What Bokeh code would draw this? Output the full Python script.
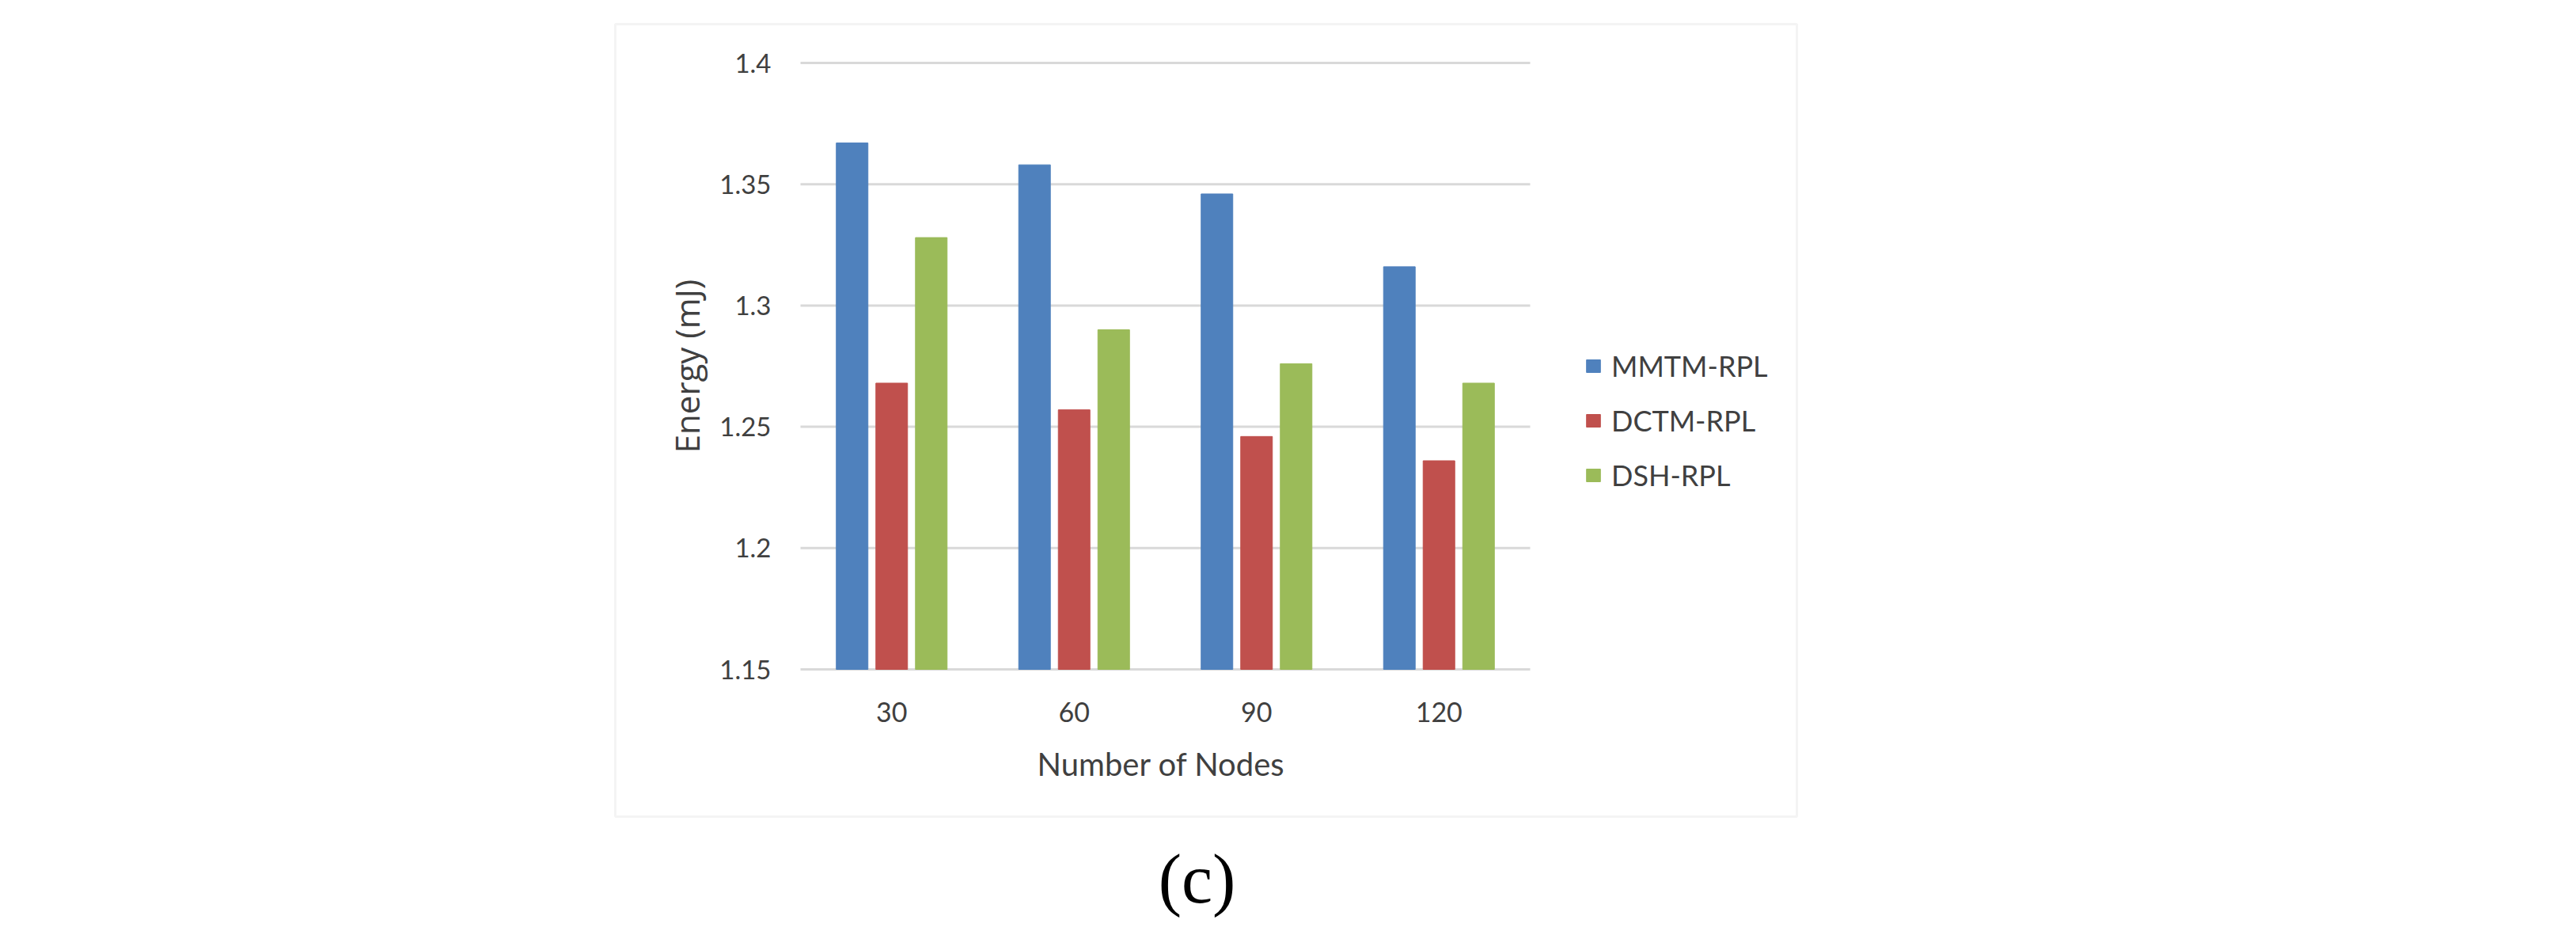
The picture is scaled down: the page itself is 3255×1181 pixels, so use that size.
from bokeh.plotting import figure
from bokeh.models import (Range1d, FixedTicker, Legend, LegendItem,
                          BoxAnnotation, Label, ColumnDataSource)
from bokeh.embed import file_html
from bokeh.resources import INLINE

# ---- data ----
categories = ["30", "60", "90", "120"]
mmtm = [1.367, 1.358, 1.346, 1.316]
dctm = [1.268, 1.257, 1.246, 1.236]
dsh = [1.328, 1.290, 1.276, 1.268]
series_names = ["MMTM-RPL", "DCTM-RPL", "DSH-RPL"]
y_ticks = [1.15, 1.2, 1.25, 1.3, 1.35, 1.4]
y_tick_labels = ["1.15", "1.2", "1.25", "1.3", "1.35", "1.4"]
x_label = "Number  of Nodes"
y_label = "Energy (mJ)"
caption = "(c)"

# ---- style / layout ----
colors = ["#4F81BD", "#C0504D", "#9BBB59"]
text_color = "#404040"
grid_color = "#D9D9D9"
FONT = "Lato"

W, H = 3239, 1165
# inner plot area in canvas pixels
PL, PR, PT, PB = 1011, 1933, 79, 845
n = len(categories)
y_lo, y_hi = y_ticks[0], y_ticks[-1]
px_per_cat = (PR - PL) / n
px_per_y = (PB - PT) / (y_hi - y_lo)
x_start = 0 - PL / px_per_cat
x_end = n + (W - PR) / px_per_cat
y_end = y_hi + PT / px_per_y
y_start = y_lo - (H - PB) / px_per_y

xc = [i + 0.5 for i in range(n)]
step = 0.217
bar_w = 0.1735
src = ColumnDataSource(dict(
    x_m=[v - step for v in xc], x_d=xc, x_s=[v + step for v in xc],
    mmtm=mmtm, dctm=dctm, dsh=dsh))

p = figure(width=W, height=H,
           x_range=Range1d(x_start, x_end), y_range=Range1d(y_start, y_end),
           output_backend="svg", toolbar_location=None,
           min_border_left=0, min_border_right=0,
           min_border_top=0, min_border_bottom=0)
p.outline_line_color = None
p.background_fill_color = "white"
p.border_fill_color = "white"
p.xgrid.grid_line_color = None
p.ygrid.grid_line_color = None

# gridlines across the inner plot area only
p.segment(x0=[0] * len(y_ticks), x1=[n] * len(y_ticks), y0=y_ticks, y1=y_ticks,
          line_color=grid_color, line_width=3)

renderers = []
for xcol, col, c in zip(["x_m", "x_d", "x_s"], ["mmtm", "dctm", "dsh"], colors):
    r = p.vbar(x=xcol, top=col, bottom=y_lo, width=bar_w, source=src,
               fill_color=c, line_color=c, line_width=1)
    renderers.append(r)

# y axis
ya = p.yaxis[0]
ya.fixed_location = 0
ya.bounds = (y_lo, y_hi)
ya.ticker = FixedTicker(ticks=y_ticks)
ya.major_label_overrides = dict(zip(y_ticks, y_tick_labels))
ya.axis_line_color = None
ya.major_tick_line_color = None
ya.minor_tick_line_color = None
ya.major_tick_out = 0
ya.major_tick_in = 0
ya.major_label_standoff = 37
ya.major_label_text_font = FONT
ya.major_label_text_font_size = "33px"
ya.major_label_text_color = text_color
ya.axis_label = y_label
ya.axis_label_text_font = "Open Sans"
ya.axis_label_text_font_size = "42px"
ya.axis_label_text_font_style = "normal"
ya.axis_label_text_color = text_color
ya.axis_label_standoff = 10

# x axis
xa = p.xaxis[0]
xa.fixed_location = y_lo
xa.bounds = (0, n)
xa.ticker = FixedTicker(ticks=xc)
xa.major_label_overrides = dict(zip(xc, categories))
xa.axis_line_color = None
xa.major_tick_line_color = None
xa.minor_tick_line_color = None
xa.major_tick_out = 0
xa.major_tick_in = 0
xa.major_label_standoff = 41
xa.major_label_text_font = FONT
xa.major_label_text_font_size = "34px"
xa.major_label_text_color = text_color
xa.axis_label = x_label
xa.axis_label_text_font = FONT
xa.axis_label_text_font_size = "40px"
xa.axis_label_text_font_style = "normal"
xa.axis_label_text_color = text_color
xa.axis_label_standoff = 26

# legend
legend = Legend(items=[LegendItem(label=nm, renderers=[r]) for nm, r in zip(series_names, renderers)],
                location=(2002, H - 622), orientation="vertical",
                glyph_width=22, glyph_height=20, label_standoff=12, spacing=25,
                padding=0, margin=0, border_line_color=None, background_fill_alpha=0,
                label_text_font=FONT, label_text_font_size="36px", label_text_color=text_color)
p.add_layout(legend)

# outer chart-area box
box = BoxAnnotation(left=777, right=2270, top=30, bottom=1031,
                    left_units="canvas", right_units="canvas",
                    top_units="canvas", bottom_units="canvas",
                    fill_color=None, fill_alpha=0, line_color=grid_color, line_width=3)
p.add_layout(box)

# caption
cap = Label(x=1512, y=1110, x_units="canvas", y_units="canvas", text=caption,
            text_align="center", text_baseline="middle",
            text_font="Liberation Serif", text_font_size="88px", text_color="black")
p.add_layout(cap)

open("out.html", "w").write(file_html(p, INLINE))
